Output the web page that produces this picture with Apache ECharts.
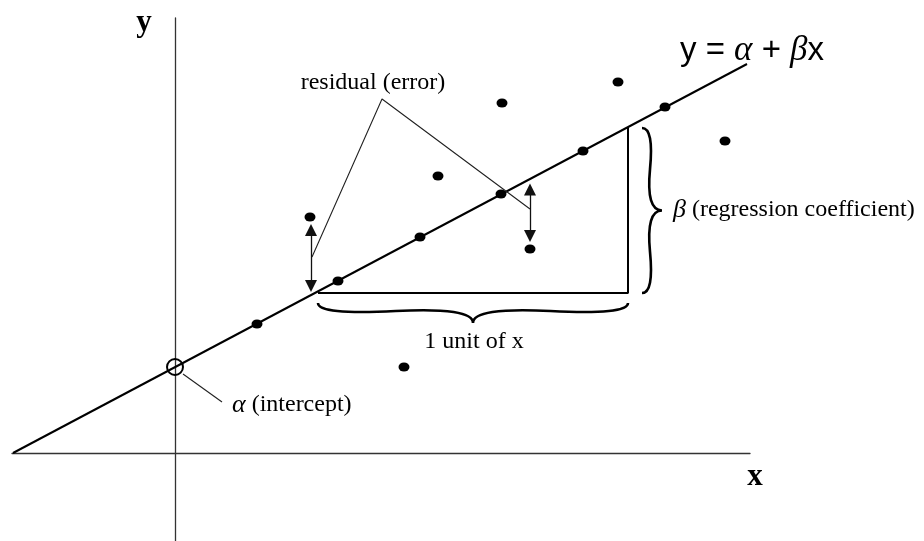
<!DOCTYPE html>
<html>
<head>
<meta charset="utf-8">
<script src="https://cdn.jsdelivr.net/npm/echarts@6/dist/echarts.min.js"></script>
<style>
  html, body { margin: 0; padding: 0; background: #fff; }
  #chart { width: 924px; height: 541px; }
</style>
</head>
<body>
<div id="chart"></div>
<script>
// 数据: origin at the axes crossing, 1 unit = 10px of the drawing
const alpha = 8.6;
const lineX = [-16.2, 57.2];
const lineY = [0.0, 38.9];
const fittedX = [8.2, 16.3, 24.5, 32.6, 40.8, 49.0];
const fittedY = [12.9, 17.2, 21.6, 25.9, 30.2, 34.6];
const observedX = [13.5, 26.3, 22.9, 32.7, 44.3, 55.0, 35.5];
const observedY = [23.6, 27.7, 8.6, 35.0, 37.1, 31.2, 20.4];
// residual arrows: x, top end, bottom end
const residuals = [[13.6, 22.3, 16.7], [35.5, 26.35, 21.7]];
// one unit step under the line
const stepX = [14.3, 45.3, 45.3];
const stepY = [16.0, 16.0, 32.6];
// braces: x1, y1, x2, y2
const braces = [[14.3, 15.0, 45.3, 15.0], [46.7, 16.0, 46.7, 32.5]];
// leader lines
const residualLeader = [[13.7, 19.6], [20.7, 35.4], [35.5, 24.4]];
const interceptLeader = [[0.8, 7.9], [4.7, 5.1]];

const zip = (xs, ys) => xs.map((x, i) => [x, ys[i]]);
const serif = 'Liberation Serif';

function bracePath(a, b, w, q) {
  let dx = a[0] - b[0], dy = a[1] - b[1];
  const len = Math.hypot(dx, dy);
  dx /= len; dy /= len;
  const q1 = [a[0] + q * w * dy, a[1] - q * w * dx];
  const q2 = [a[0] - .25 * len * dx + (1 - q) * w * dy, a[1] - .25 * len * dy - (1 - q) * w * dx];
  const t = [a[0] - .5 * len * dx + w * dy, a[1] - .5 * len * dy - w * dx];
  const q3 = [b[0] + q * w * dy, b[1] - q * w * dx];
  const q4 = [a[0] - .75 * len * dx + (1 - q) * w * dy, a[1] - .75 * len * dy - (1 - q) * w * dx];
  const r1 = [2 * q2[0] - q1[0], 2 * q2[1] - q1[1]];
  const r2 = [2 * q4[0] - q3[0], 2 * q4[1] - q3[1]];
  const p = v => v[0].toFixed(2) + ' ' + v[1].toFixed(2);
  return 'M ' + p(a) + ' Q ' + p(q1) + ' ' + p(q2) + ' Q ' + p(r1) + ' ' + p(t) +
         ' M ' + p(b) + ' Q ' + p(q3) + ' ' + p(q4) + ' Q ' + p(r2) + ' ' + p(t);
}

function textItem(x, y, text, align, style) {
  return {
    value: [x, y],
    label: Object.assign({
      show: true, position: 'inside', formatter: text, align: align, verticalAlign: 'middle',
      color: '#000', fontFamily: serif, fontSize: 24
    }, style || {})
  };
}

const chart = echarts.init(document.getElementById('chart'));
const option = {
  backgroundColor: '#fff',
  animation: false,
  grid: { left: 12, right: 174, top: 18, bottom: 0 },
  xAxis: {
    type: 'value', min: -16.3, max: 57.5,
    axisLine: { onZero: true, lineStyle: { color: '#333', width: 1.3 } },
    axisTick: { show: false }, axisLabel: { show: false }, splitLine: { show: false }
  },
  yAxis: {
    type: 'value', min: -8.8, max: 43.5,
    axisLine: { onZero: true, lineStyle: { color: '#333', width: 1.3 } },
    axisTick: { show: false }, axisLabel: { show: false }, splitLine: { show: false }
  },
  series: [
    {
      name: 'regression', type: 'line', data: zip(lineX, lineY), symbol: 'none',
      lineStyle: { color: '#000', width: 2 }, silent: true
    },
    {
      name: 'step', type: 'line', data: zip(stepX, stepY), symbol: 'none',
      lineStyle: { color: '#000', width: 2 }, silent: true
    },
    {
      name: 'leader1', type: 'line', data: residualLeader, symbol: 'none',
      lineStyle: { color: '#222', width: 1.1 }, silent: true
    },
    {
      name: 'leader2', type: 'line', data: interceptLeader, symbol: 'none',
      lineStyle: { color: '#222', width: 1.1 }, silent: true
    },
    {
      name: 'residuals', type: 'line', data: [], silent: true,
      markLine: {
        silent: true, symbol: ['triangle', 'triangle'], symbolSize: [12, 12],
        label: { show: false },
        lineStyle: { color: '#111', width: 1.3, type: 'solid' },
        data: residuals.map(r => [{ coord: [r[0], r[1]] }, { coord: [r[0], r[2]] }])
      }
    },
    {
      name: 'fitted', type: 'scatter', data: zip(fittedX, fittedY),
      symbol: 'circle', symbolSize: [11, 9], itemStyle: { color: '#000', opacity: 1 }
    },
    {
      name: 'observed', type: 'scatter', data: zip(observedX, observedY),
      symbol: 'circle', symbolSize: [11, 9], itemStyle: { color: '#000', opacity: 1 }
    },
    {
      name: 'intercept', type: 'scatter', data: [[0, alpha]],
      symbol: 'circle', symbolSize: 16,
      itemStyle: { color: 'rgba(0,0,0,0)', borderColor: '#000', borderWidth: 2, opacity: 1 }
    },
    {
      name: 'braces', type: 'custom', data: braces, silent: true,
      encode: { x: [0, 2], y: [1, 3] },
      renderItem: function (params, api) {
        const a = api.coord([api.value(0), api.value(1)]);
        const b = api.coord([api.value(2), api.value(3)]);
        return {
          type: 'path',
          shape: { pathData: bracePath(a, b, 20, 0.6) },
          style: { fill: 'none', stroke: '#000', lineWidth: 2.6 }
        };
      }
    },
    {
      name: 'labels', type: 'scatter', symbolSize: 0, silent: true, clip: false,
      itemStyle: { opacity: 1 },
      data: [
        textItem(50.5, 40.2, '{n|y = }{g|α}{n| + }{g|β}{n|x}', 'left', {
          rich: {
            n: { fontFamily: 'Liberation Sans', fontSize: 33, color: '#000' },
            g: { fontFamily: serif, fontStyle: 'italic', fontSize: 35, color: '#000' }
          }
        }),
        textItem(19.8, 37.0, 'residual (error)', 'center'),
        textItem(49.8, 24.3, '{g|β} (regression coefficient)', 'left', {
          rich: { g: { fontFamily: serif, fontStyle: 'italic', fontSize: 26, color: '#000' } }
        }),
        textItem(29.9, 11.1, '1 unit of x', 'center'),
        textItem(5.7, 4.8, '{g|α} (intercept)', 'left', {
          rich: { g: { fontFamily: serif, fontStyle: 'italic', fontSize: 26, color: '#000' } }
        }),
        textItem(-3.1, 43.0, 'y', 'center', { fontWeight: 'bold', fontSize: 31 }),
        textItem(58.0, -2.4, 'x', 'center', { fontWeight: 'bold', fontSize: 31 })
      ]
    }
  ]
};
chart.setOption(option);
</script>
</body>
</html>
